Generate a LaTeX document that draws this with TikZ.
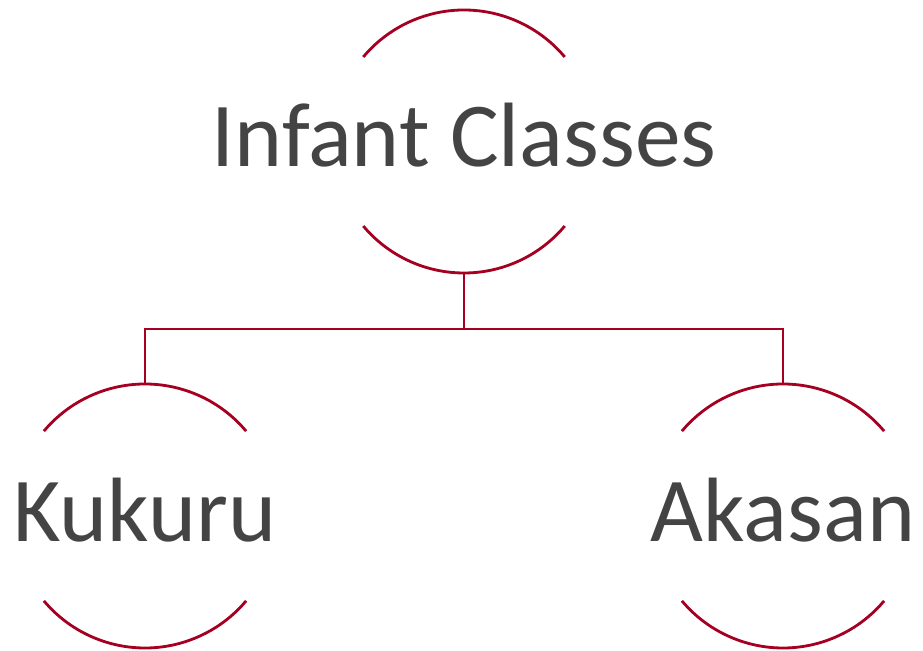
\documentclass[tikz,border=0pt]{standalone}
\usepackage{fontspec}
\setmainfont{Carlito}
\usetikzlibrary{shapes.geometric}
\usetikzlibrary{calc}

\definecolor{ringred}{RGB}{165,0,33}
\definecolor{labelgrey}{RGB}{68,68,68}

\begin{document}
\begin{tikzpicture}[x=0.03cm,y=0.03cm,
		ring/.style={circle,draw=none,inner sep=0pt,outer sep=0pt,minimum size=#1},
		label text/.style={text=labelgrey,font=\fontsize{78}{80}\selectfont,inner sep=0pt,anchor=base},
		link/.style={draw=ringred,line width=2.4pt}]
		\useasboundingbox (0,0) rectangle (923,651);
		
		% the three rings
		\node[ring=7.89cm] (infant) at (464,509.5) {};
		\node[ring=7.92cm] (kukuru) at (145,135) {};
		\node[ring=7.92cm] (akasan) at (783,135) {};
		
		\node[label text] (infant-txt) at (464,484) {Infant Classes};
		\node[label text] (kukuru-txt) at (145,109) {Kukuru};
		\node[label text] (akasan-txt) at (783,109) {Akasan};
		
		% open rings: only top and bottom arcs
		\draw[link] (infant.40) arc[start angle=40,end angle=140,radius=131.5];
		\draw[link] (infant.220) arc[start angle=220,end angle=320,radius=131.5];
		\draw[link] (kukuru.40) arc[start angle=40,end angle=140,radius=132];
		\draw[link] (kukuru.220) arc[start angle=220,end angle=320,radius=132];
		\draw[link] (akasan.40) arc[start angle=40,end angle=140,radius=132];
		\draw[link] (akasan.220) arc[start angle=220,end angle=320,radius=132];
		
		\draw[link] (infant.south) -- ++(0,-56) -| (kukuru.north);
		\draw[link] (infant.south) -- ++(0,-56) -| (akasan.north);
		
	\end{tikzpicture}
\end{document}
